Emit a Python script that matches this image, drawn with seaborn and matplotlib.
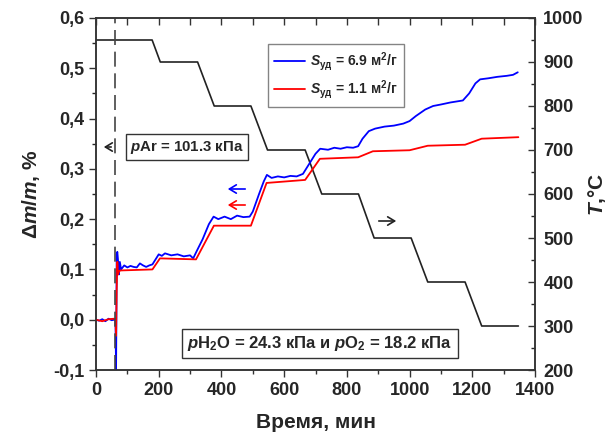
import numpy as np
import pandas as pd
import matplotlib
matplotlib.use("Agg")
import matplotlib.pyplot as plt
from matplotlib.ticker import MultipleLocator, FuncFormatter
import seaborn as sns

# ---- data ----
t_blue = [0, 10, 20, 30, 40, 50, 58, 62, 64, 65, 66, 68, 70, 73, 76, 80, 90, 100, 110, 120,
          130, 140, 150, 160, 170, 180, 190, 200, 210, 220, 240, 260, 280, 300, 310, 320,
          340, 360, 375, 390, 410, 430, 450, 470, 490, 500, 520, 535, 545, 560, 580, 600,
          620, 640, 660, 680, 700, 715, 740, 760, 780, 800, 820, 836, 850, 870, 890, 920,
          950, 980, 1000, 1020, 1050, 1075, 1100, 1130, 1170, 1190, 1210, 1225, 1250, 1280,
          1310, 1330, 1345]
m_blue = [0.0, -0.002, 0.001, -0.003, 0.002, -0.001, 0.0, 0.002, -0.1, 0.0, 0.13, 0.135, 0.12,
          0.09, 0.115, 0.1, 0.108, 0.104, 0.107, 0.105, 0.104, 0.112, 0.108, 0.105, 0.108,
          0.11, 0.12, 0.13, 0.127, 0.132, 0.128, 0.13, 0.126, 0.128, 0.122, 0.135, 0.16, 0.19,
          0.205, 0.2, 0.205, 0.2, 0.207, 0.204, 0.205, 0.215, 0.25, 0.275, 0.288, 0.282, 0.285,
          0.283, 0.286, 0.285, 0.29, 0.31, 0.33, 0.34, 0.338, 0.342, 0.34, 0.343, 0.342, 0.345,
          0.36, 0.375, 0.38, 0.384, 0.386, 0.39, 0.395, 0.405, 0.418, 0.425, 0.428, 0.432,
          0.436, 0.45, 0.47, 0.478, 0.48, 0.483, 0.485, 0.487, 0.492]

t_red = [0, 20, 40, 58, 62, 64, 66, 68, 70, 74, 80, 180, 204, 319, 376, 494, 544, 667, 714,
         836, 883, 1000, 1058, 1177, 1230, 1347]
m_red = [0.0, -0.003, 0.001, 0.002, 0.0, -0.032, 0.06, 0.115, 0.09, 0.097, 0.098, 0.1, 0.122,
         0.12, 0.187, 0.187, 0.272, 0.278, 0.32, 0.323, 0.335, 0.337, 0.346, 0.348, 0.36, 0.363]

t_T = [0, 179, 205, 324, 377, 494, 547, 667, 720, 837, 887, 1005, 1058, 1177, 1230, 1347]
T_val = [950, 950, 900, 900, 800, 800, 700, 700, 600, 600, 500, 500, 400, 400, 300, 300]

label_blue = "$S_{\\mathrm{уд}}$ = 6.9 м$^{\\mathrm{2}}$/г"
label_red = "$S_{\\mathrm{уд}}$ = 1.1 м$^{\\mathrm{2}}$/г"
t_switch = 62

df_b = pd.DataFrame({"t": t_blue, "m": m_blue})
df_r = pd.DataFrame({"t": t_red, "m": m_red})
df_T = pd.DataFrame({"t": t_T, "T": T_val})

sns.set_style("ticks")
plt.rcParams["font.family"] = ["Liberation Sans", "DejaVu Sans"]
plt.rcParams["font.weight"] = "bold"
plt.rcParams["mathtext.fontset"] = "custom"
plt.rcParams["mathtext.rm"] = "Liberation Sans:bold"
plt.rcParams["mathtext.it"] = "Liberation Sans:bold:italic"
plt.rcParams["mathtext.bf"] = "Liberation Sans:bold"

fig = plt.figure(figsize=(6.07, 4.36), dpi=100)
ax = fig.add_axes([96/607, 1-370/436, (535-96)/607, (370-18)/436])
ax2 = ax.twinx()

sns.lineplot(data=df_T, x="t", y="T", ax=ax2, color="#222222", lw=1.2, sort=False,
             estimator=None)
sns.lineplot(data=df_b, x="t", y="m", ax=ax, color="#0000ff", lw=1.3, sort=False,
             estimator=None, label=label_blue)
sns.lineplot(data=df_r, x="t", y="m", ax=ax, color="#ff0000", lw=1.3, sort=False,
             estimator=None, label=label_red)
ax.set_zorder(ax2.get_zorder() + 1)
ax.patch.set_visible(False)

ax.axvline(t_switch, color="#444444", lw=1.2, ls=(0, (9, 4)))

ax.set_xlim(0, 1400)
ax.set_ylim(-0.1, 0.6)
ax2.set_ylim(200, 1000)

ax.xaxis.set_major_locator(MultipleLocator(200))
ax.xaxis.set_minor_locator(MultipleLocator(100))
ax.yaxis.set_major_locator(MultipleLocator(0.1))
ax.yaxis.set_minor_locator(MultipleLocator(0.05))
ax2.yaxis.set_major_locator(MultipleLocator(100))
ax2.yaxis.set_minor_locator(MultipleLocator(50))
ax.yaxis.set_major_formatter(FuncFormatter(lambda v, p: f"{v:.1f}".replace(".", ",").replace("−", "-")))

ax.tick_params(axis="x", which="both", direction="out", top=True, labeltop=False,
               labelsize=13, color="#333333")
ax.tick_params(axis="x", which="major", length=5, width=1)
ax.tick_params(axis="x", which="minor", length=3, width=1)
ax.tick_params(axis="y", which="major", direction="out", length=5, width=1, labelsize=13,
               color="#333333", right=False)
ax.tick_params(axis="y", which="minor", direction="out", length=3, width=1, right=False)
ax2.tick_params(axis="y", which="major", direction="in", length=5, width=1, labelsize=13,
                color="#333333", pad=6)
ax2.tick_params(axis="y", which="minor", direction="in", length=3, width=1)
for tk in ax.xaxis.get_major_ticks() + ax.xaxis.get_minor_ticks():
    tk.tick2line.set_marker(3)
    tk.tick2line.set_markersize(5)

for a in (ax, ax2):
    for s in a.spines.values():
        s.set_color("#333333")
        s.set_linewidth(1.1)
    for lab in a.get_xticklabels() + a.get_yticklabels():
        lab.set_fontweight("bold")

ax.set_xlabel("Время, мин", fontsize=15, fontweight="bold", labelpad=10)
ax.set_ylabel("Δ$m$/$m$, %", fontsize=15, fontweight="bold", labelpad=8)
ax2.set_ylabel("$T$,°C", fontsize=15, fontweight="bold", labelpad=2)

leg = ax.legend(loc="upper left", bbox_to_anchor=(268/607, 1-44/436),
                bbox_transform=fig.transFigure, borderaxespad=0, fancybox=False,
                frameon=True, fontsize=10, handlelength=2.2, handletextpad=0.4,
                borderpad=0.45, labelspacing=0.35)
leg.get_frame().set_edgecolor("#666666")
leg.get_frame().set_linewidth(1.0)
for txt in leg.get_texts():
    txt.set_fontweight("bold")

box = dict(boxstyle="square,pad=0.3", fc="white", ec="#333333", lw=1.0)
ax.text((187-96)/439, (370-147)/352, "$p$Ar = 101.3 кПа", transform=ax.transAxes,
        ha="center", va="center", fontsize=10.8, fontweight="bold", bbox=box)
ax.text((320-96)/439, (370-343)/352, "$p$H$_{\\mathrm{2}}$O = 24.3 кПа и $p$O$_{\\mathrm{2}}$ = 18.2 кПа",
        transform=ax.transAxes, ha="center", va="center", fontsize=12, fontweight="bold",
        bbox=box)

def arrow(x0, x1, y, color):
    ax.annotate("", xy=((x1-96)/439, (370-y)/352), xytext=((x0-96)/439, (370-y)/352),
                xycoords="axes fraction", textcoords="axes fraction",
                arrowprops=dict(arrowstyle="->,head_length=0.5,head_width=0.3", color=color, lw=1.2))

arrow(114, 101, 147, "#222222")
arrow(248, 225, 189, "#0000ff")
arrow(248, 225, 205, "#ff0000")
arrow(376, 399, 221, "#222222")

fig.savefig("out.png", dpi=100)
